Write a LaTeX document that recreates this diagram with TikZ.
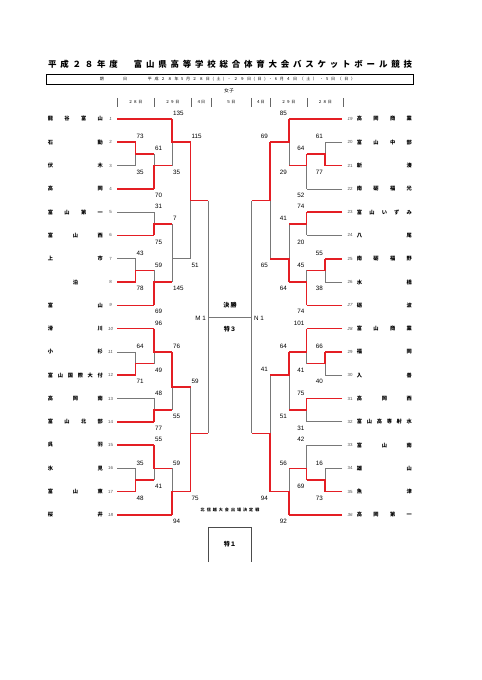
\documentclass[tikz,border=0pt]{standalone}
\usepackage{fontspec}
\setmainfont{Liberation Sans}
\newfontfamily\jp{Noto Sans CJK JP}

\pgfdeclarelayer{back}
\pgfsetlayers{back,main}

\definecolor{winred}{RGB}{228,30,36}
\definecolor{losegray}{RGB}{120,120,120}

% vertical position of a row (row 1 = first school)
\pgfmathdeclarefunction{ry}{1}{\pgfmathparse{119+(#1-1)*23.29}}

\tikzset{
  win/.style={winred, line width=2pt},
  lose/.style={losegray, line width=0.9pt},
  score/.style={font=\fontsize{7.8}{8}\selectfont, inner sep=0pt},
  seedup/.style={font=\fontsize{5.5}{6}\selectfont, text=black!70, inner sep=0pt},
  seedit/.style={font=\fontsize{5.5}{6}\selectfont\itshape, text=black!70, inner sep=0pt},
  school/.style={font=\jp\bfseries\fontsize{6.5}{7}\selectfont, inner sep=0pt},
  small/.style={font=\jp\fontsize{5}{6}\selectfont, inner sep=0pt},
  box/.style={font=\jp\bfseries\fontsize{7.5}{8}\selectfont, inner sep=0pt},
}

% one game: column, top row, bottom row, out row, next column, winner (t/b/n)
\newcommand\game[6]{%
  \if#6t
    \begin{pgfonlayer}{back}\draw[lose] (#1,{ry(#4)}) -- (#1,{ry(#3)});\end{pgfonlayer}
    \draw[win] (#1,{ry(#2)}) -- (#1,{ry(#4)}) -- (#5,{ry(#4)});
  \else\if#6b
    \begin{pgfonlayer}{back}\draw[lose] (#1,{ry(#2)}) -- (#1,{ry(#4)});\end{pgfonlayer}
    \draw[win] (#1,{ry(#3)}) -- (#1,{ry(#4)}) -- (#5,{ry(#4)});
  \else
    \begin{pgfonlayer}{back}
      \draw[lose] (#1,{ry(#2)}) -- (#1,{ry(#3)});
      \draw[lose] (#1,{ry(#4)}) -- (#5,{ry(#4)});
    \end{pgfonlayer}
  \fi\fi}

\begin{document}
\begin{tikzpicture}[x=0.4366mm, y=-0.4366mm]
    \useasboundingbox (0,0) rectangle (481,680);

    % Title and dates
    \node[font=\jp\bfseries\fontsize{10.5}{11}\selectfont, inner sep=0pt] (title) at (230,64)
        {\makebox[158.9mm][s]{平 成 ２ ８ 年 度 　 富 山 県 高 等 学 校 総 合 体 育 大 会 バ ス ケ ッ ト ボ ー ル 競 技}};
    \draw[line width=1pt] (46,74.3) rectangle (413,84);
    \node[small] (kijitu) at (113.4,79.2) {\makebox[11.9mm][s]{期 日}};
    \node[small] (dates) at (251.5,79.2)
        {\makebox[90.4mm][s]{平 成 ２ ８ 年 5 月 ２ ８ 日 ( 土 ) ・ ２ ９ 日 ( 日 ) ・ 6 月 ４ 日 （ 土 ） ・ 5 日 （ 日 ）}};
    \node[font=\jp\fontsize{6}{7}\selectfont, inner sep=0pt] (joshi) at (229,90.3) {女子};

    % Day columns
    \foreach \x in {117,154,191,211,251,270,307,343}
        \draw[black!60, line width=0.5pt] (\x,98) -- (\x,107);
    \foreach \x/\d [count=\k] in {135.5/{２ ８ 日}, 172.5/{２ ９ 日}, 201/{４日}, 231/{５ 日},
                                 260.5/{４日}, 288.5/{２ ９ 日}, 325/{２ ８ 日}}
        \node[small] (day\k) at (\x,102.3) {\d};

    % Left schools
    \foreach \r/\f/\nm in {1/seedit/{龍 谷 富 山}, 2/seedup/{石 動}, 3/seedup/{伏 木}, 4/seedup/{高 岡},
        5/seedup/{富 山 第 一}, 6/seedup/{富 山 西}, 7/seedup/{上 市}, 8/seedup/{\hfil 泊\hfil},
        9/seedit/{富 山}, 10/seedit/{滑 川}, 11/seedit/{小 杉}, 12/seedup/{富 山 国 際 大 付},
        13/seedup/{高 岡 南}, 14/seedup/{富 山 北 部}, 15/seedup/{呉 羽}, 16/seedup/{氷 見},
        17/seedup/{富 山 東}, 18/seedit/{桜 井}} {
        \node[school] (lname\r) at (75.4,{ry(\r)}) {\makebox[24mm][s]{\nm}};
        \node[\f] (lseed\r) at (110.5,{ry(\r)}) {\r};
    }

    % Right schools
    \foreach \r/\f/\nm in {1/seedit/{高 岡 商 業}, 2/seedup/{富 山 中 部}, 3/seedup/{新 湊}, 4/seedup/{南 砺 福 光},
        5/seedup/{富 山 い ず み}, 6/seedup/{八 尾}, 7/seedup/{南 砺 福 野}, 8/seedup/{水 橋},
        9/seedit/{砺 波}, 10/seedit/{富 山 商 業}, 11/seedup/{福 岡}, 12/seedup/{入 善},
        13/seedup/{高 岡 西}, 14/seedup/{富 山 高 専 射 水}, 15/seedup/{富 山 南}, 16/seedup/{雄 山},
        17/seedup/{魚 津}, 18/seedit/{高 岡 第 一}} {
        \pgfmathtruncatemacro\n{\r+18}
        \node[school] (rname\r) at (384.4,{ry(\r)}) {\makebox[24mm][s]{\nm}};
        \node[\f] (rseed\r) at (350,{ry(\r)}) {\n};
    }

    % First lines of each school
    \foreach \r/\c/\s in {1/172/win, 2/135.5/win, 3/135.5/lose, 4/154/win, 5/154/lose, 6/154/win,
        7/135.5/lose, 8/135.5/win, 9/154/win, 10/154/win, 11/135.5/lose, 12/135.5/win,
        13/154/lose, 14/154/win, 15/154/win, 16/135.5/lose, 17/135.5/win, 18/172/win}
        \draw[\s] (117,{ry(\r)}) -- (\c,{ry(\r)});
    \foreach \r/\c/\s in {1/289/win, 2/325/lose, 3/325/win, 4/306.5/lose, 5/306.5/win, 6/306.5/lose,
        7/325/win, 8/325/lose, 9/306.5/win, 10/306.5/win, 11/325/win, 12/325/lose,
        13/306.5/win, 14/306.5/lose, 15/306.5/lose, 16/325/lose, 17/325/win, 18/289/win}
        \draw[\s] (342,{ry(\r)}) -- (\c,{ry(\r)});

    % Left games
    \game{135.5}{2}{3}{2.5}{154}{t}
    \game{154}{2.5}{4}{3}{172}{b}
    \game{172}{1}{3}{2}{190.5}{t}
    \game{154}{5}{6}{5.5}{172}{b}
    \game{135.5}{7}{8}{7.5}{154}{b}
    \game{154}{7.5}{9}{8}{172}{b}
    \game{172}{5.5}{8}{7}{190.5}{n}
    \game{190.5}{2}{7}{4.5}{208.3}{t}
    \game{135.5}{11}{12}{11.5}{154}{b}
    \game{154}{10}{11.5}{11}{172}{t}
    \game{154}{13}{14}{13.5}{172}{b}
    \game{172}{11}{13.5}{12.5}{190.5}{t}
    \game{135.5}{16}{17}{16.5}{154}{b}
    \game{154}{15}{16.5}{16}{172}{t}
    \game{172}{16}{18}{17}{190.5}{b}
    \game{190.5}{12.5}{17}{14.5}{208.3}{b}

    % Right games
    \game{325}{2}{3}{2.5}{306.5}{b}
    \game{306.5}{2.5}{4}{3}{289}{t}
    \game{289}{1}{3}{2}{270}{t}
    \game{306.5}{5}{6}{5.5}{289}{t}
    \game{325}{7}{8}{7.5}{306.5}{t}
    \game{306.5}{7.5}{9}{8}{289}{b}
    \game{289}{5.5}{8}{7}{270}{b}
    \game{270}{2}{7}{4.5}{251.7}{t}
    \game{325}{11}{12}{11.5}{306.5}{t}
    \game{306.5}{10}{11.5}{11}{289}{t}
    \game{306.5}{13}{14}{13.5}{289}{t}
    \game{289}{11}{13.5}{12}{270}{t}
    \game{325}{16}{17}{16.5}{306.5}{b}
    \game{306.5}{15}{16.5}{16}{289}{b}
    \game{289}{16}{18}{17}{270}{b}
    \game{270}{12}{17}{14.5}{251.7}{b}

    % Scores, left side
    \foreach \c/\r/\s [count=\k] in {135.5/2/73, 154/2.5/61, 172/1/135, 190.5/2/115, 154/5/31, 172/5.5/7,
        135.5/7/43, 154/7.5/59, 154/10/96, 135.5/11/64, 172/11/76, 154/13/48, 190.5/12.5/59,
        154/15/55, 135.5/16/35, 172/16/59}
        \node[score, anchor=west] (ltop\k) at (\c+1,{ry(\r)-5.5}) {\s};
    \foreach \c/\r/\s [count=\k] in {135.5/3/35, 154/4/70, 172/3/35, 190.5/7/51, 154/6/75, 172/8/145,
        135.5/8/78, 154/9/69, 154/11.5/49, 135.5/12/71, 172/13.5/55, 154/14/77, 190.5/17/75,
        154/16.5/41, 135.5/17/48, 172/18/94}
        \node[score, anchor=west] (lbot\k) at (\c+1,{ry(\r)+6.5}) {\s};

    % Scores, right side
    \foreach \c/\r/\s [count=\k] in {325/2/61, 306.5/2.5/64, 289/1/85, 270/2/69, 306.5/5/74, 289/5.5/41,
        325/7/55, 306.5/7.5/45, 306.5/10/101, 325/11/66, 289/11/64, 306.5/13/75, 270/12/41,
        306.5/15/42, 325/16/16, 289/16/56}
        \node[score, anchor=east] (rtop\k) at (\c-2,{ry(\r)-5.5}) {\s};
    \foreach \c/\r/\s [count=\k] in {325/3/77, 306.5/4/52, 289/3/29, 270/7/65, 306.5/6/20, 289/8/64,
        325/8/38, 306.5/9/74, 306.5/11.5/41, 325/12/40, 289/13.5/51, 306.5/14/31, 270/17/94,
        306.5/16.5/69, 325/17/73, 289/18/92}
        \node[score, anchor=east] (rbot\k) at (\c-2,{ry(\r)+6.5}) {\s};

    % Final
    \draw[lose] (208.3,{ry(4.5)}) -- (208.3,{ry(14.5)});
    \draw[lose] (251.7,{ry(4.5)}) -- (251.7,{ry(14.5)});
    \draw[lose] (208.3,{ry(9.5)}) -- (251.7,{ry(9.5)});
    \node[box] (final) at (230,305.7) {決\,勝};
    \node[box] (toku3) at (230,329.3) {特３};
    \node[score, anchor=east] (m1) at (206,318) {M 1};
    \node[score, anchor=west] (n1) at (254,318) {N 1};

    % Hokushinetsu play-off
    \node[font=\jp\bfseries\fontsize{5}{6}\selectfont, inner sep=0pt] (hse) at (230,510)
        {\makebox[25.6mm][s]{北 信 越 大 会 出 場 決 定 戦}};
    \draw[black!70, line width=0.9pt] (208.3,562) -- (208.3,527) -- (251.7,527) -- (251.7,562);
    \node[box] (toku1) at (230,544) {特１};
\end{tikzpicture}
\end{document}
